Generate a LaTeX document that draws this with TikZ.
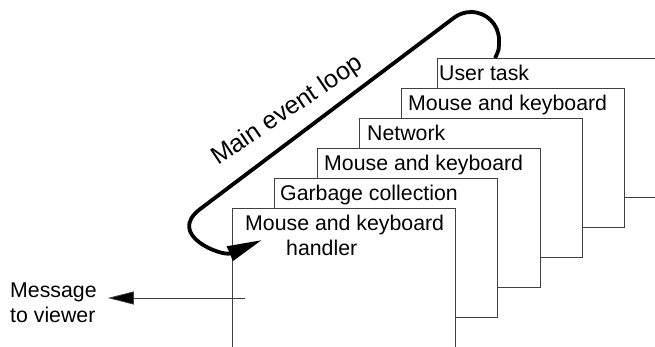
\documentclass[tikz,border=0pt]{standalone}
\usepackage{fontspec}
\setmainfont{Liberation Sans}
\usetikzlibrary{arrows.meta,calc}

\begin{document}
\begin{tikzpicture}[x=1pt,y=1pt,
    card/.style={draw=black!75, line width=0.8pt, fill=white, anchor=north west,
      minimum width=223pt, minimum height=139pt, inner sep=0pt},
    cardtext/.style={anchor=base west, inner sep=0pt,
      font=\fontsize{21.3pt}{25pt}\selectfont},
    loopline/.style={line width=3.8pt, -{Triangle[length=35pt,width=15pt]}},
    msgline/.style={draw=black!75, line width=0.8pt, -{Triangle[length=26pt,width=13pt,fill=black]}}]
    \clip (0,0) rectangle (655,-346);
    % stack of handlers, back to front
    \node[card] (user) at (437,-58) {};
    \node[cardtext] (usertxt) at ([shift={(2,-22)}]user.north west) {User task};
    \node[card] (mkb) at (401,-88) {};
    \node[cardtext] (mkbtxt) at ([shift={(7,-22)}]mkb.north west) {Mouse and keyboard};
    \node[card] (net) at (359,-118) {};
    \node[cardtext] (nettxt) at ([shift={(8,-22)}]net.north west) {Network};
    \node[card] (mka) at (317,-148) {};
    \node[cardtext] (mkatxt) at ([shift={(7,-22)}]mka.north west) {Mouse and keyboard};
    \node[card] (gc) at (274,-178) {};
    \node[cardtext] (gctxt) at ([shift={(6,-22)}]gc.north west) {Garbage collection};
    \node[card] (handler) at (232,-208) {};
    % base of a two-line node sits on its last line
    \node[cardtext, align=left] (handlertxt) at ([shift={(13,-47)}]handler.north west)
      {Mouse and keyboard\\\hspace*{41pt}handler};
    % the loop
    \draw[loopline] ([xshift=58pt]user.north west) .. controls +(4,8) .. ++(4,18)
      arc[start angle=0, end angle=127, radius=28] -- ++(217:318)
      to[out=217, in=203, looseness=1.6] ([shift={(30,-32)}]handler.north west);
    \node[cardtext, rotate=34, font=\fontsize{25pt}{29pt}\selectfont] (looplabel)
      at (218,-166) {Main event loop};
    % message out
    \node[cardtext, align=left] (msg) at (10,-322) {Message\\to viewer};
    \coordinate (out) at ([shift={(13,-90)}]handler.north west);
    \draw[msgline] (out) -- ($(msg.east |- out)+(11,0)$);
\end{tikzpicture}
\end{document}
